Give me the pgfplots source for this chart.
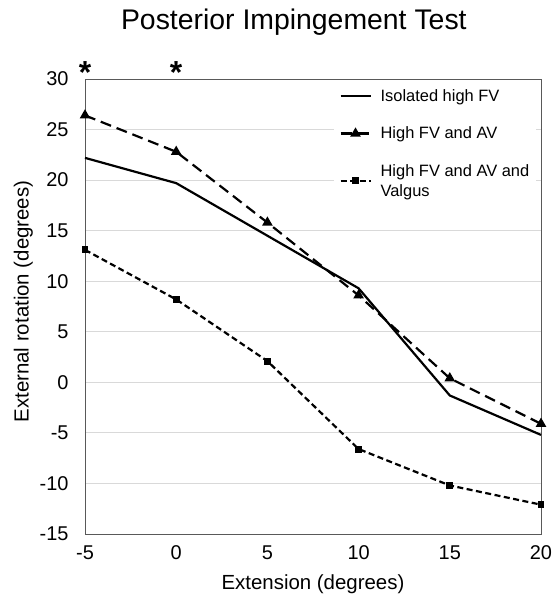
\documentclass[border=0pt]{standalone}
\usepackage{pgfplots}
\pgfplotsset{compat=1.18}
\usepackage{fontspec}
\setmainfont{Liberation Sans}
\definecolor{axgray}{HTML}{595959}
\definecolor{gridgray}{HTML}{D9D9D9}
\begin{document}
\begin{tikzpicture}
\useasboundingbox (-85bp,-67bp) rectangle (468bp,534bp);
\begin{axis}[
  at={(0,0)}, anchor=south west,
  scale only axis, width=456bp, height=455bp,
  xmin=-5, xmax=20, ymin=-15, ymax=30,
  xtick={-5,0,5,10,15,20}, ytick={-15,-10,...,30},
  major tick length=0pt,
  axis line style={axgray, line width=1pt},
  ymajorgrids, grid style={gridgray, line width=0.8pt},
  /pgf/number format/assume math mode=true,
  tick label style={font=\fontsize{20}{22}\selectfont},
  xticklabel style={yshift=-8bp},
  yticklabel style={xshift=-13bp},
  xlabel={Extension (degrees)},
  ylabel={External rotation (degrees)},
  label style={font=\fontsize{20.5}{23}\selectfont},
  xlabel style={yshift=-8bp},
  ylabel style={yshift=0bp, xshift=5bp},
  title={Posterior Impingement Test},
  title style={font=\fontsize{28.5}{32}\selectfont, at={(rel axis cs:0.458,1)}, anchor=base, yshift=44bp},
  clip=false,
  legend style={draw=none, fill=white, at={(rel axis cs:0.99,0.995)}, anchor=north east,
    font=\fontsize{16.5}{20}\selectfont, row sep=20bp, inner xsep=5bp, inner ysep=6bp,
    cells={align=left, anchor=west},
    /tikz/every odd column/.append style={column sep=7bp}},
  legend image code/.code={\draw[mark repeat=2, mark phase=2] plot coordinates {(0bp,0bp) (15bp,0bp) (30bp,0bp)};},
]
\addplot[black, line width=2.2pt] coordinates {(-5,22.2) (0,19.7) (5,14.5) (10,9.3) (15,-1.3) (20,-5.2)};
\addlegendentry{Isolated high FV}
\addplot[black, line width=2.2pt, dash pattern=on 11bp off 6bp, mark=triangle*, mark size=4bp, mark options={solid}] coordinates {(-5,26.4) (0,22.8) (5,15.8) (10,8.6) (15,0.4) (20,-4.1)};
\addlegendentry{High FV and AV}
\addplot[black, line width=2.2pt, dash pattern=on 6bp off 3.5bp, mark=square*, mark size=2.4bp, mark options={solid}] coordinates {(-5,13.1) (0,8.2) (5,2.1) (10,-6.6) (15,-10.2) (20,-12.1)};
\addlegendentry{High FV and AV and\\Valgus}
\node[font=\bfseries\fontsize{32}{34}\selectfont, inner sep=0pt] at (axis cs:-5,30.6) {*};
\node[font=\bfseries\fontsize{32}{34}\selectfont, inner sep=0pt] at (axis cs:0,30.6) {*};
\end{axis}
\end{tikzpicture}
\end{document}
